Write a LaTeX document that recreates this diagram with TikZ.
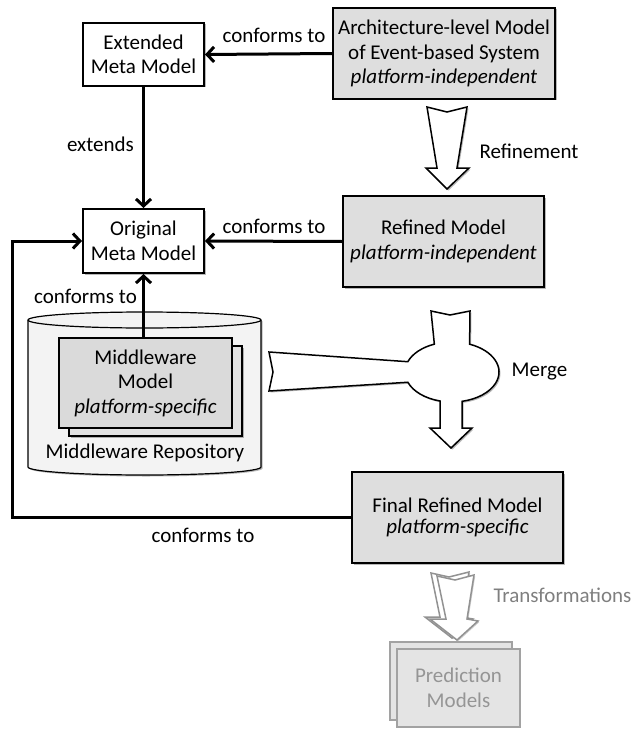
\documentclass[tikz,border=0pt]{standalone}
\usepackage{fontspec}
\setmainfont{Carlito}
\usetikzlibrary{arrows.meta,shadows}

\definecolor{boxgray}{HTML}{DEDEDE}
\definecolor{mwgray}{HTML}{DADADA}
\definecolor{mwback}{HTML}{E2E2E2}
\definecolor{cylfill}{HTML}{F3F3F3}
\definecolor{fadeline}{HTML}{A2A2A2}
\definecolor{fadefill}{HTML}{E4E4E4}
\definecolor{fadetext}{HTML}{959595}
\definecolor{trtext}{HTML}{7F7F7F}

\begin{document}
\begin{tikzpicture}[x=1pt,y=-1pt,
  every node/.style={font=\fontsize{21}{24.5}\selectfont, inner sep=0pt},
  softshadow/.style={drop shadow={shadow xshift=1.5pt,shadow yshift=-1.5pt,opacity=0.28,fill=black}},
  metabox/.style={draw, line width=2pt, fill=white, align=center, softshadow},
  modelbox/.style={draw, line width=2pt, fill=boxgray, align=center, softshadow},
  mwbox/.style={draw, line width=1.8pt, align=center},
  fadebox/.style={draw=fadeline, line width=1.8pt, fill=fadefill, text=fadetext, align=center},
  conn/.style={line width=3pt, -{Straight Barb[length=7pt,width=15pt]}},
  blockarrow/.style={draw, line width=1.5pt, fill=white, line join=miter, softshadow},
  fadearrow/.style={draw=fadeline!90!black, line width=1.5pt, fill=white, line join=miter,
    drop shadow={shadow xshift=1.2pt,shadow yshift=-1.2pt,opacity=0.2,fill=black}},
  lbl/.style={align=center}
]
\useasboundingbox (0,0) rectangle (635,733);

% meta models
\node[metabox, minimum width=121pt, minimum height=63pt] (ext) at (143.5,54.5)
  {Extended\\Meta Model};
\node[metabox, minimum width=121pt, minimum height=64pt] (orig) at (143.5,241)
  {Original\\Meta Model};

% models
\node[modelbox, minimum width=222pt, minimum height=91pt] (arch) at (444,53.5)
  {Architecture-level Model\\of Event-based System\\\textit{platform-independent}};
\node[modelbox, minimum width=201pt, minimum height=91pt] (ref) at (443.5,241.5)
  {Refined Model\\\textit{platform-independent}};
\node[modelbox, minimum width=211pt, minimum height=91pt,
  font=\fontsize{21}{21}\selectfont] (final) at (457.5,517.5)
  {Final Refined Model\\\textit{platform-specific}};

% middleware repository (cylinder)
\path[draw, line width=1.2pt, fill=cylfill, softshadow]
  (28,320) -- (28,467) arc[start angle=180, end angle=360, x radius=116.5pt, y radius=8pt]
  -- (261,320) arc[start angle=0, end angle=180, x radius=116.5pt, y radius=8pt] -- cycle;
\draw[line width=1.2pt] (28,320) arc[start angle=180, end angle=360, x radius=116.5pt, y radius=8pt];

\node[mwbox, fill=mwback, minimum width=173pt, minimum height=90pt, softshadow] (mwb) at (155.5,391) {};
\node[mwbox, fill=mwgray, minimum width=173pt, minimum height=90pt] (mw) at (145.5,383)
  {Middleware\\Model\\\textit{platform-specific}};
\node (repo) at (145,453) {Middleware Repository};

% connectors
\draw[conn] (arch.west) -- (ext.east);
\draw[conn] (ext.south) -- (orig.north);
\draw[conn] (ref.west) -- (orig.east);
\draw[conn] (orig.south |- mw.north) -- (orig.south);
\coordinate (fb) at (12,0);
\draw[conn] (final.west) -| (fb |- orig.west) -- (orig.west);

\node[lbl] (c1) at (274,35) {conforms to};
\node[lbl] (ex) at (100.5,144) {extends};
\node[lbl] (c2) at (274,226) {conforms to};
\node[lbl] (c3) at (85.5,296) {conforms to};
\node[lbl] (c4) at (203,535) {conforms to};

% refinement block arrow
\path[blockarrow] (427,107) -- (447,112) -- (467,107) -- (457,168) -- (469,168)
  -- (447,189) -- (426,168) -- (437,168) -- cycle;
\node (rl) at (529,151) {Refinement};

% merge block arrow
\path[blockarrow] (269,352) -- (407.8,361.7)
  arc[start angle=160, end angle=112, x radius=47pt, y radius=30pt]
  -- (431,311) -- (450,315) -- (470,311) -- (469.6,344.2)
  arc[start angle=68, end angle=-77.7, x radius=47pt, y radius=30pt]
  -- (462,428) -- (472,428) -- (451,448) -- (430,428) -- (440,428) -- (440,401)
  arc[start angle=-104.8, end angle=-160, x radius=47pt, y radius=30pt]
  -- (269,391) -- (273,372) -- cycle;
\node (ml) at (539.5,372) {Merge};

% transformations
\path[fadearrow] (431,573) -- (449,577) -- (469,572) -- (461,617) -- (473,619)
  -- (452,638) -- (425,617) -- (440,617) -- cycle;
\path[fadearrow] (437,576) -- (455,580) -- (474,575) -- (467,619) -- (478,621)
  -- (457,640) -- (430,619) -- (446,619) -- cycle;
\node[text=trtext] (tl) at (562.5,595) {Transformations};

% prediction models
\node[fadebox, minimum width=122pt, minimum height=78pt] (predb) at (451,681) {};
\node[fadebox, minimum width=123pt, minimum height=78pt,
  drop shadow={shadow xshift=1.2pt,shadow yshift=-1.2pt,opacity=0.2,fill=black}] (pred) at (458.5,688)
  {Prediction\\Models};
\end{tikzpicture}
\end{document}
